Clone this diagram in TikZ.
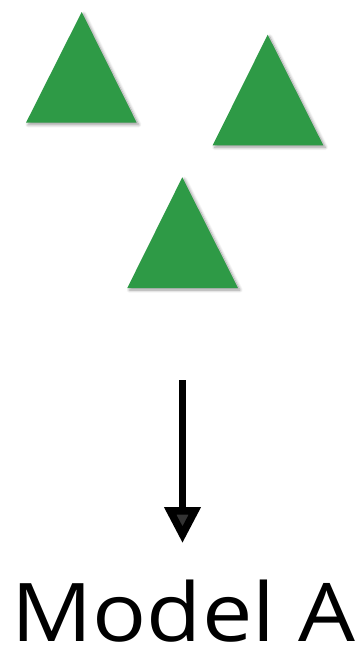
\documentclass[tikz,border=0pt]{standalone}
\usepackage{fontspec}
\setmainfont{Open Sans}
\usetikzlibrary{arrows.meta,shadows.blur}
\definecolor{leaf}{RGB}{46,154,70}
\tikzset{
  tri/.style={fill=leaf, draw=none, blur shadow={shadow xshift=2pt, shadow yshift=-2pt, shadow blur steps=8, shadow opacity=40, shadow blur radius=3pt}},
  flow/.style={line width=7.5pt, -{Triangle[width=35pt,length=36pt]}}
}
\begin{document}
\begin{tikzpicture}[x=1pt,y=1pt]
\useasboundingbox (0,0) rectangle (356,-646);
\path[tri] (81.7,-12) -- (136.7,-122.7) -- (26,-122.7) -- cycle;
\path[tri] (267.7,-34.7) -- (323.3,-145.3) -- (212.7,-145.3) -- cycle;
\path[tri] (182.3,-177.3) -- (238,-288) -- (127.3,-288) -- cycle;
\coordinate (start) at (182.5,-380);
\coordinate (tip) at (182.5,-543);
\draw[flow] (start) -- (tip);
\node[anchor=base, inner sep=0pt, text depth=0pt, xscale=1.11, font=\fontsize{81}{90}\selectfont] (label) at (183.5,-641) {Model A};
\end{tikzpicture}
\end{document}
